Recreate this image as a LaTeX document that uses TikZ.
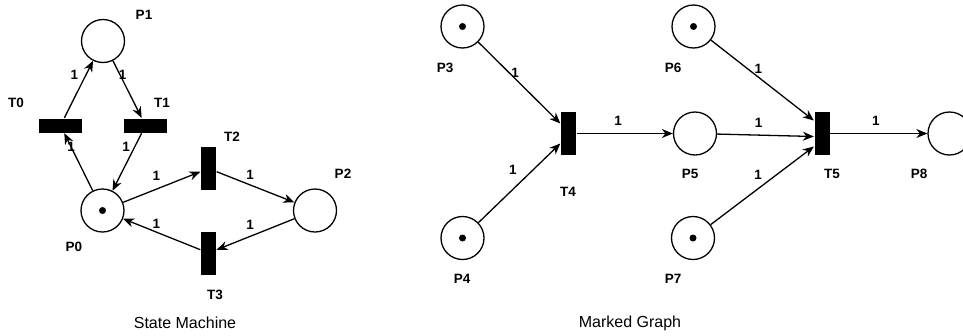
\documentclass[tikz,border=0pt]{standalone}
\usepackage{fontspec}
\setmainfont{Liberation Sans}
\usetikzlibrary{arrows.meta, positioning}

\tikzset{
  place/.style={circle, draw, minimum size=43pt, inner sep=0pt},
  marked/.style={place, label={[circle, fill, inner sep=0pt, minimum size=7pt]center:}},
  transition/.style={rectangle, fill=black, inner sep=0pt},
  hbar/.style={transition, minimum width=43pt, minimum height=14pt},
  vbar/.style={transition, minimum width=15pt, minimum height=43pt},
  lbl/.style={font=\fontsize{13.5}{15}\selectfont\bfseries},
  wt/.style={font=\fontsize{13.5}{15}\selectfont\bfseries, inner sep=2pt},
  title/.style={font=\fontsize{16}{18}\selectfont},
}

\begin{document}
\begin{tikzpicture}[x=1pt, y=-1pt, line width=1.3pt,
    >={Stealth[length=11pt, width=9pt, inset=3.5pt]}]
    \useasboundingbox (0,0) rectangle (963,335);
    \clip (0,0) rectangle (963,335);

    % state machine
    \node[place] (P1) at (103,41) {};
    \node[marked] (P0) at (102.5,210.5) {};
    \node[place] (P2) at (315,210.5) {};
    \node[hbar] (T0) at (60.5,125.5) {};
    \node[hbar] (T1) at (145.5,125.5) {};
    \node[vbar] (T2) at (208.5,168.5) {};
    \node[vbar] (T3) at (208.5,253) {};

    \node[lbl] (lP1) at (144,15) {P1};
    \node[lbl] (lP0) at (74,247) {P0};
    \node[lbl] (lP2) at (343,174) {P2};
    \node[lbl] (lT0) at (16,103) {T0};
    \node[lbl] (lT1) at (162,103) {T1};
    \node[lbl] (lT2) at (232,137) {T2};
    \node[lbl] (lT3) at (215,295) {T3};

    \draw[->] (P0) to node[wt, pos=.76] {1} (T0);
    \draw[->] (T0) to node[wt, pos=.75, left=5pt] {1} (P1);
    \draw[->] (P1) to node[wt, pos=.25, right=-4pt] {1} (T1);
    \draw[->] (T1) to node[wt, pos=.24, left=2pt] {1} (P0);
    \draw[->] (P0) to node[wt, pos=.43, above=6pt] {1} (T2);
    \draw[->] (T2) to node[wt, pos=.43, above=3pt] {1} (P2);
    \draw[->] (P2) to node[wt, pos=.57, above=4pt] {1} (T3);
    \draw[->] (T3) to node[wt, pos=.57, above=1pt] {1} (P0);

    \node[title] (sm) at (185,323) {State Machine};

    % marked graph
    \node[marked] (P3) at (462.5,26.5) {};
    \node[marked] (P4) at (462.5,238) {};
    \node[vbar] (T4) at (568.5,133.5) {};
    \node[place] (P5) at (695,133.5) {};
    \node[marked] (P6) at (693.5,26.5) {};
    \node[marked] (P7) at (693,238) {};
    \node[vbar] (T5) at (822,133.5) {};
    \node[place] (P8) at (949.5,133.5) {};

    \node[lbl] (lP3) at (445,68) {P3};
    \node[lbl] (lP4) at (462,279) {P4};
    \node[lbl] (lT4) at (568,192) {T4};
    \node[lbl] (lP6) at (673,68) {P6};
    \node[lbl] (lP5) at (690,174) {P5};
    \node[lbl] (lT5) at (832,174) {T5};
    \node[lbl] (lP8) at (919,174) {P8};
    \node[lbl] (lP7) at (673,279) {P7};

    \draw[->] (P3) to node[wt, pos=.45, above=-1pt] {1} ([yshift=10pt]T4.west);
    \draw[->] (P4) to node[wt, pos=.42, above=12pt] {1} ([yshift=-10pt]T4.west);
    \draw[->] (T4) to node[wt, pos=.43, above=5pt] {1} (P5);
    \draw[->] (P6) to node[wt, pos=.46, above=1pt] {1} ([yshift=13pt]T5.west);
    \draw[->] (P5) to node[wt, pos=.43, above=5pt] {1} ([yshift=-3pt]T5.west);
    \draw[->] (P7) to node[wt, pos=.46, above=7pt] {1} ([yshift=-13pt]T5.west);
    \draw[->] (T5) to node[wt, pos=.47, above=5pt] {1} (P8);

    \node[title] (mg) at (630,323) {Marked Graph};
\end{tikzpicture}
\end{document}
